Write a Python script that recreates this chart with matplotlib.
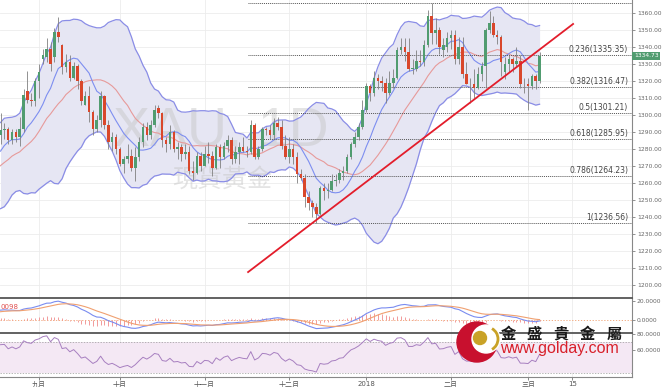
import numpy as np
import pandas as pd
import matplotlib
matplotlib.use("Agg")
import matplotlib.pyplot as plt
from matplotlib.patches import Circle, Arc

plt.rcParams['font.family'] = ['DejaVu Sans', 'Noto Sans CJK TC']

# closes before the first visible bar (Jun - mid Aug 2017), only used to warm up the indicators
pre_closes = [1269, 1279, 1281, 1293, 1287, 1280, 1271, 1266, 1267, 1260, 1254, 1254, 1246, 1243,
              1246, 1249, 1256, 1246, 1249, 1249, 1244, 1242, 1219, 1225, 1226, 1223, 1212, 1213,
              1214, 1219, 1217, 1228, 1234, 1241, 1242, 1245, 1255, 1255, 1251, 1249, 1260, 1269,
              1269, 1270, 1268, 1268, 1258, 1259, 1263, 1277, 1287, 1289, 1281, 1269, 1283, 1288]

# visible daily bars, 2017-08-18 .. 2018-03-06
opens = [1288, 1291, 1292, 1285, 1290, 1287, 1292, 1314, 1309, 1308,
         1320, 1333, 1334, 1339, 1334, 1349, 1341, 1328, 1331, 1322,
         1329, 1320, 1306, 1311, 1302, 1292, 1297, 1311, 1294, 1284,
         1287, 1280, 1271, 1274, 1276, 1269, 1275, 1284, 1293, 1288,
         1294, 1304, 1301, 1285, 1283, 1290, 1280, 1281, 1277, 1278,
         1267, 1266, 1276, 1270, 1277, 1276, 1269, 1281, 1275, 1282,
         1285, 1274, 1278, 1281, 1279, 1278, 1294, 1275, 1280, 1292,
         1291, 1288, 1295, 1293, 1282, 1275, 1280, 1275, 1265, 1263,
         1252, 1248, 1246, 1242, 1257, 1255, 1256, 1261, 1262, 1266,
         1267, 1275, 1283, 1287, 1293, 1303, 1317, 1313, 1322, 1320,
         1319, 1313, 1319, 1322, 1338, 1340, 1337, 1327, 1327, 1332,
         1331, 1341, 1358, 1348, 1350, 1338, 1340, 1345, 1347, 1333,
         1340, 1324, 1318, 1318, 1316, 1324, 1329, 1350, 1354, 1347,
         1346, 1325, 1330, 1333, 1330, 1332, 1318, 1318, 1317, 1323,
         1320]
highs = [1301, 1295, 1293, 1292, 1292, 1299, 1315, 1326, 1313, 1322,
         1330, 1339, 1345, 1343, 1351, 1357.6, 1342, 1336, 1335, 1331,
         1330, 1321, 1314, 1317, 1303, 1300, 1314, 1312, 1297, 1290,
         1289, 1281, 1276, 1283, 1280, 1281, 1287, 1295, 1296, 1297,
         1306, 1306, 1302, 1287, 1294, 1291, 1284, 1283, 1283, 1282,
         1273, 1278, 1278, 1282, 1284, 1279, 1283, 1283, 1284, 1288,
         1287, 1282, 1284, 1287, 1282, 1297, 1295, 1282, 1293, 1293,
         1294, 1298, 1299, 1297, 1288, 1287, 1283, 1278, 1268, 1265,
         1255, 1250, 1248, 1258, 1260, 1260, 1265, 1265, 1268, 1270,
         1277, 1284, 1290, 1295, 1309, 1319, 1318, 1326, 1324, 1323,
         1322, 1326, 1327, 1340, 1345, 1345, 1345, 1333, 1338, 1338,
         1344, 1362, 1366, 1357, 1352, 1345, 1349, 1350, 1350, 1346,
         1346, 1331, 1322, 1327, 1328, 1331, 1351, 1361, 1358, 1350,
         1347, 1334, 1335, 1334, 1340, 1335, 1322, 1322, 1324, 1324,
         1337]
lows = [1283, 1286, 1283, 1283, 1284, 1282, 1290, 1307, 1305, 1305,
        1310, 1330, 1331, 1326, 1331, 1343, 1324, 1325, 1320, 1321,
        1315, 1306, 1306, 1296, 1288, 1290, 1293, 1292, 1280, 1279,
        1277, 1270, 1266, 1272, 1267, 1261, 1273, 1281, 1285, 1286,
        1293, 1298, 1281, 1278, 1280, 1278, 1274, 1273, 1274, 1265,
        1262, 1265, 1267, 1270, 1272, 1264, 1268, 1269, 1274, 1278,
        1271, 1272, 1271, 1278, 1275, 1277, 1274, 1274, 1279, 1288,
        1286, 1286, 1291, 1280, 1274, 1272, 1271, 1260, 1262, 1246,
        1244, 1240, 1236.5, 1241, 1250, 1251, 1255, 1258, 1260, 1262,
        1266, 1274, 1281, 1285, 1292, 1302, 1308, 1311, 1315, 1314,
        1307, 1312, 1316, 1321, 1336, 1332, 1326, 1324, 1326, 1329,
        1329, 1340, 1342, 1342, 1336, 1334, 1337, 1339, 1330, 1330,
        1322, 1318, 1307, 1310, 1315, 1320, 1316, 1348, 1346, 1342,
        1323, 1321, 1325, 1325, 1329, 1316, 1313, 1303, 1315, 1315,
        1319]
closes = [1291, 1292, 1285, 1290, 1287, 1292, 1312, 1309, 1308, 1320,
          1325, 1335, 1339, 1330, 1349, 1346, 1328, 1331, 1322, 1329,
          1320, 1308, 1311, 1302, 1292, 1297, 1311, 1294, 1284, 1287,
          1280, 1271, 1274, 1276, 1269, 1275, 1284, 1293, 1288, 1294,
          1303, 1301, 1285, 1283, 1290, 1280, 1281, 1277, 1278, 1267,
          1266, 1276, 1270, 1277, 1276, 1269, 1281, 1275, 1282, 1285,
          1274, 1278, 1281, 1279, 1278, 1294, 1275, 1280, 1292, 1291,
          1288, 1295, 1293, 1282, 1275, 1280, 1275, 1265, 1263, 1252,
          1248, 1246, 1242, 1257, 1255, 1256, 1261, 1262, 1266, 1267,
          1275, 1283, 1287, 1293, 1303, 1317, 1313, 1322, 1320, 1319,
          1313, 1319, 1322, 1338, 1340, 1337, 1327, 1327, 1332, 1331,
          1341, 1358, 1348, 1350, 1340, 1341, 1345, 1347, 1333, 1340,
          1324, 1318, 1318, 1316, 1324, 1329, 1350, 1354, 1347, 1346,
          1331, 1330, 1333, 1330, 1332, 1318, 1318, 1317, 1323, 1320,
          1334.73]

month_ticks = [10, 31, 53, 75, 95, 117, 137, 148.5]
month_labels = ['九月', '十月', '十一月', '十二月', '2018', '二月', '三月', '15']

fib_ratios = [0, 0.236, 0.382, 0.5, 0.618, 0.786, 1]
fib_high = 1365.86
fib_low = 1236.56
fib_start = 64.3

trend_x = [64.3, 148.7]
trend_y = [1207.6, 1353.5]

price_ticks = list(range(1200, 1361, 10))
macd_ticks = [0, 20]
rsi_ticks = [60, 80]

# ---- indicators
allc = pd.Series(pre_closes + closes, dtype=float)
npre = len(pre_closes)
ma20 = allc.rolling(20).mean()
sd20 = allc.rolling(20).std(ddof=0)
upper = (ma20 + 2 * sd20).values[npre:]
lower = (ma20 - 2 * sd20).values[npre:]
mid = ma20.values[npre:]
ma10 = allc.rolling(10).mean().values[npre:]

ema12 = allc.ewm(span=12, adjust=False).mean()
ema26 = allc.ewm(span=26, adjust=False).mean()
macd = ema12 - ema26
signal = macd.ewm(span=9, adjust=False).mean()
hist = (macd - signal).values[npre:]
macd = macd.values[npre:]
signal = signal.values[npre:]

delta = allc.diff()
gain = delta.clip(lower=0).ewm(alpha=1 / 14, adjust=False).mean()
loss = (-delta.clip(upper=0)).ewm(alpha=1 / 14, adjust=False).mean()
rsi = (100 - 100 / (1 + gain / loss)).values[npre:]

x = np.arange(len(closes))
o = np.array(opens); h = np.array(highs); l = np.array(lows); c = np.array(closes)

W, H = 665, 387
fig = plt.figure(figsize=(W / 100, H / 100), dpi=100)
pw = 632 / W
ax = fig.add_axes([0, (H - 298) / H, pw, 298 / H])
axm = fig.add_axes([0, (H - 333) / H, pw, 35 / H], sharex=ax)
axr = fig.add_axes([0, (H - 377) / H, pw, 44 / H], sharex=ax)

xlim = (-0.13, 164.0)
grid_c = '#ececec'
for a in (ax, axm, axr):
    a.set_xlim(*xlim)
    for s in ('left', 'top', 'bottom'):
        a.spines[s].set_visible(False)
    a.spines['right'].set_color('#888888')
    a.spines['right'].set_linewidth(0.8)
    a.yaxis.tick_right()
    a.tick_params(axis='y', labelsize=4.3, colors='#666666', length=2, width=0.5, pad=1.5)
    for t in month_ticks:
        a.axvline(t, color=grid_c, lw=0.6, zorder=0)

# ---- main price panel
ax.set_ylim(1192.35, 1367.6)
ax.set_yticks(price_ticks)
ax.set_yticklabels([f'{p:.2f}' for p in price_ticks])
for p in price_ticks:
    ax.axhline(p, color=grid_c, lw=0.6, zorder=0)
ax.tick_params(axis='x', bottom=False, labelbottom=False)

ax.text(113 / 632, 1 - 146 / 298, 'XAU, 1D', transform=ax.transAxes, fontsize=40,
        family='Liberation Sans', color='#c4c4c4', alpha=0.45, ha='left', va='baseline', zorder=1.5)
ax.text(172 / 632, 1 - 180 / 298, '現貨黃金', transform=ax.transAxes, fontsize=18,
        family='Noto Sans CJK TC', color='#c4c4c4', alpha=0.45, ha='left', va='center', zorder=1.5)

ax.fill_between(x, lower, upper, color='#e6e6f3', lw=0, zorder=1)
ax.plot(x, upper, color='#8a8de6', lw=0.9, zorder=2)
ax.plot(x, lower, color='#8a8de6', lw=0.9, zorder=2)
ax.plot(x, mid, color='#e69a9a', lw=0.8, zorder=2)
ax.plot(x, ma10, color='#7d8ef0', lw=0.8, zorder=2)

up = c >= o
col = np.where(up, '#519c70', '#d9472b')
ax.vlines(x, l, h, color='#808080', lw=0.6, zorder=3)
body_lo = np.minimum(o, c)
body_h = np.maximum(np.abs(c - o), 0.4)
ax.bar(x, body_h, bottom=body_lo, width=0.66, color=col, lw=0, zorder=3.5)

for r in fib_ratios:
    lev = fib_high - r * (fib_high - fib_low)
    ax.plot([fib_start, xlim[1]], [lev, lev], color='#555555', lw=0.7,
            ls=(0, (1, 1)), zorder=2.5)
    if r > 0:  # the 0 level label sits above the top edge in the reference
        ax.text(163.0, lev + 0.4, f'{r:g}({lev:.2f})', fontsize=5.5, color='#444444',
                ha='right', va='bottom', zorder=5)

ax.plot(trend_x, trend_y, color='#e31d2b', lw=1.3, zorder=4)

ax.text(1.003, c[-1], f'{c[-1]:.2f}', transform=ax.get_yaxis_transform(), fontsize=4.3,
        color='white', ha='left', va='center', zorder=6, clip_on=False,
        bbox=dict(boxstyle='square,pad=0.25', fc='#519c70', ec='none'))

# ---- MACD panel
axm.set_ylim(-13.7, 23.2)
axm.set_yticks(macd_ticks)
axm.set_yticklabels([f'{v:.4f}' for v in macd_ticks])
axm.spines['top'].set_visible(True)
axm.spines['top'].set_color('#555555')
axm.spines['top'].set_linewidth(1.3)
axm.tick_params(axis='x', bottom=False, labelbottom=False)
axm.axhline(0, color='#f0a070', lw=0.6, ls=(0, (1.5, 2)), zorder=1)
axm.vlines(x, 0, hist, color='#f08b8b', lw=0.6, zorder=2)
axm.plot(x, macd, color='#7a8cf0', lw=0.8, zorder=3)
axm.plot(x, signal, color='#f0a070', lw=0.8, zorder=3)
axm.text(0.0, 13.7, '0098', fontsize=5, color='#e05050', ha='left', va='center')

# ---- RSI panel
axr.set_ylim(24.8, 81.6)
axr.set_yticks(rsi_ticks)
axr.set_yticklabels([f'{v:.4f}' for v in rsi_ticks])
axr.spines['top'].set_visible(True)
axr.spines['top'].set_color('#555555')
axr.spines['top'].set_linewidth(1.3)
axr.spines['bottom'].set_visible(True)
axr.spines['bottom'].set_color('#888888')
axr.spines['bottom'].set_linewidth(0.8)
axr.axhspan(30, 70, color='#f4e8f4', lw=0, zorder=0.5)
axr.axhline(70, color='#999999', lw=0.5, ls=(0, (2, 2)), zorder=1)
axr.axhline(30, color='#999999', lw=0.5, ls=(0, (2, 2)), zorder=1)
axr.plot(x, rsi, color='#a77fc0', lw=0.7, zorder=3)
axr.set_xticks(month_ticks)
axr.set_xticklabels(month_labels)
axr.tick_params(axis='x', labelsize=5, colors='#555555', length=2, width=0.5, pad=1)

# ---- logo overlay (pixel coordinates)
ov = fig.add_axes([0, 0, 1, 1], facecolor='none')
ov.set_xlim(0, W)
ov.set_ylim(H, 0)
ov.axis('off')
ov.add_patch(Circle((477, 342), 20, color='#c8102e', zorder=1))
ov.add_patch(Circle((486, 339), 14, color='white', zorder=2))
ov.add_patch(Circle((480, 338), 6.5, color='#c9a227', zorder=3))
ov.add_patch(Arc((486, 339), 24, 24, theta1=-60, theta2=60, color='#c9a227', lw=2, zorder=3))
for i, ch in enumerate('金盛貴金屬'):
    ov.text(508 + i * 26.5, 334, ch, fontsize=11, family='Noto Sans CJK TC', fontweight='bold',
            color='#1a1a1a', ha='center', va='center', zorder=4)
ov.text(500, 349, 'www.golday.com', fontsize=11.5, family='Liberation Sans',
        color='#d8202a', ha='left', va='center', zorder=4)

fig.savefig('out.png', dpi=100)
